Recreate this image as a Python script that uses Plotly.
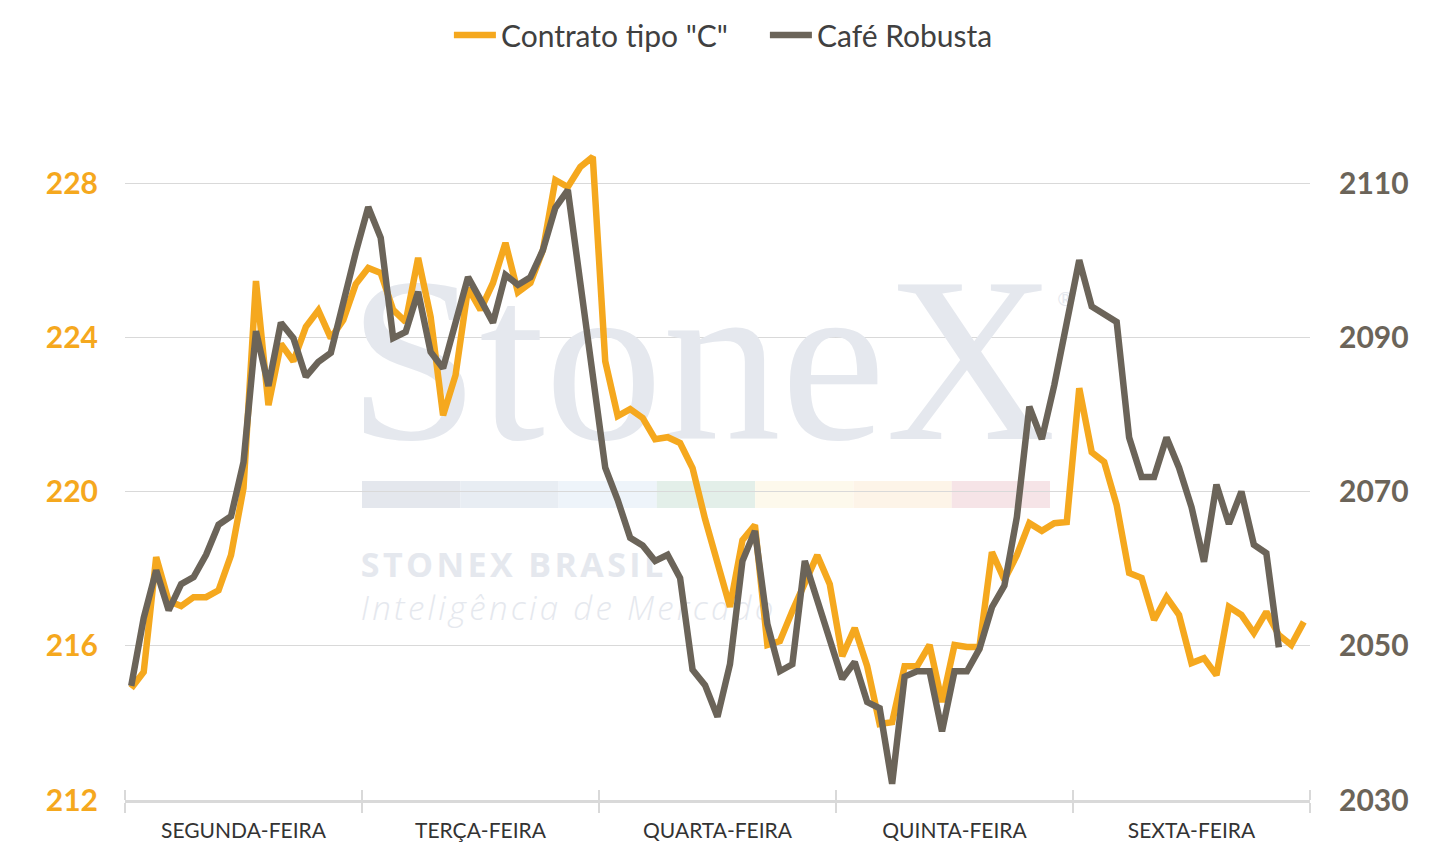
import plotly.graph_objects as go

# dias da semana (rotulos do eixo x) - 19 leituras por dia
dias = ["SEGUNDA-FEIRA", "TERÇA-FEIRA", "QUARTA-FEIRA", "QUINTA-FEIRA", "SEXTA-FEIRA"]
pontos_por_dia = 19

# Contrato tipo "C" (eixo esquerdo)
contrato_c = [
    214.90, 215.32, 218.30, 217.16, 217.03, 217.26, 217.26, 217.44, 218.35, 220.09,
    225.46, 222.24, 223.83, 223.38, 224.27, 224.70, 223.98, 224.45, 225.38, 225.80,
    225.67, 224.71, 224.40, 226.06, 224.53, 221.98, 223.02, 225.28, 224.71, 225.41,
    226.45, 225.17, 225.41, 226.26, 228.08, 227.90, 228.42, 228.68, 223.38, 221.96,
    222.14, 221.91, 221.36, 221.41, 221.26, 220.61, 219.29, 218.15, 217.01, 218.74,
    219.13, 216.02, 216.12, 216.90, 217.65, 218.35, 217.60, 215.73, 216.46, 215.47,
    213.97, 214.02, 215.47, 215.47, 216.02, 214.54, 216.02, 215.97, 215.97, 218.43,
    217.71, 218.35, 219.18, 218.98, 219.18, 219.21, 222.68, 221.02, 220.77, 219.65,
    217.89, 217.76, 216.67, 217.26, 216.80, 215.55, 215.68, 215.24, 217.01, 216.80,
    216.33, 216.88, 216.28, 216.02, 216.62,
]

# Cafe Robusta (eixo direito)
robusta = [
    2044.8, 2053.6, 2059.8, 2054.6, 2058.0, 2058.9, 2061.8, 2065.7, 2066.8, 2073.8,
    2090.8, 2083.7, 2091.9, 2089.9, 2084.9, 2086.8, 2088.0, 2094.9, 2101.0, 2106.9,
    2102.9, 2089.9, 2090.7, 2095.9, 2088.1, 2086.0, 2091.9, 2097.8, 2094.9, 2091.9,
    2098.1, 2096.8, 2097.8, 2101.3, 2106.8, 2109.1, 2097.1, 2085.0, 2073.1, 2068.9,
    2064.0, 2063.0, 2061.0, 2061.8, 2058.8, 2046.9, 2044.9, 2040.8, 2047.6, 2061.0,
    2064.9, 2052.8, 2046.7, 2047.6, 2061.0, 2055.9, 2050.8, 2045.7, 2047.9, 2042.7,
    2041.9, 2032.1, 2046.0, 2046.7, 2046.7, 2038.9, 2046.7, 2046.7, 2049.6, 2055.0,
    2057.8, 2066.7, 2081.0, 2076.8, 2083.8, 2091.6, 2100.0, 2094.0, 2092.9, 2092.0,
    2077.0, 2071.9, 2071.9, 2077.0, 2073.1, 2068.0, 2060.9, 2070.9, 2065.8, 2070.0,
    2063.1, 2062.0, 2049.8,
]

ticks_esq = [212, 216, 220, 224, 228]
ticks_dir = [2030, 2050, 2070, 2090, 2110]

LARANJA = "#F5A81E"
CINZA = "#6B6459"
MARCA = "#E5E8EE"
faixa_cores = ["#E4E7ED", "#E8EDF3", "#EEF4FA", "#E3EFE9", "#FDF9EC", "#FDF4E8", "#F6E4E7"]

n = len(contrato_c)
centros = [pontos_por_dia * k + (pontos_por_dia - 1) / 2 for k in range(len(dias))]


def espacado(s):
    # espacamento entre letras da marca d'agua
    return "\u200a".join(s)


fig = go.Figure()

# marca d'agua StoneX (fica abaixo das linhas)
fig.add_trace(go.Scatter(x=[45.75], y=[222.9], mode="text", text=["StoneX"],
                         textposition="middle center", hoverinfo="skip", showlegend=False,
                         textfont=dict(family="Liberation Serif", size=236, color=MARCA)))
fig.add_trace(go.Scatter(x=[74.9], y=[224.95], mode="text", text=["®"],
                         textposition="middle center", hoverinfo="skip", showlegend=False,
                         textfont=dict(family="Lato", size=20, color=MARCA)))
fig.add_trace(go.Scatter(x=[18.4], y=[218.0], mode="text", text=[espacado("STONEX BRASIL")],
                         textposition="middle right", hoverinfo="skip", showlegend=False,
                         textfont=dict(family="Open Sans", size=34, color=MARCA, weight="bold")))
fig.add_trace(go.Scatter(x=[18.4], y=[216.88], mode="text",
                         text=[espacado("Inteligência de Mercado")],
                         textposition="middle right", hoverinfo="skip", showlegend=False,
                         textfont=dict(family="Open Sans", size=33, color=MARCA, style="italic",
                                       weight=300)))

fig.add_trace(go.Scatter(x=list(range(n)), y=contrato_c, mode="lines", name='Contrato tipo "C"',
                         line=dict(color=LARANJA, width=6.5)))
fig.add_trace(go.Scatter(x=list(range(len(robusta))), y=robusta, mode="lines", name="Café Robusta",
                         line=dict(color=CINZA, width=6.5), xaxis="x2", yaxis="y2"))

# faixa colorida da marca
x0, x1 = 0.2, 0.7806
w = (x1 - x0) / len(faixa_cores)
for k, c in enumerate(faixa_cores):
    fig.add_shape(type="rect", xref="paper", yref="paper", x0=x0 + k * w, x1=x0 + (k + 1) * w,
                  y0=0.4207, y1=0.4597, fillcolor=c, line_width=0, layer="below")

fig.update_layout(
    width=1450, height=868,
    margin=dict(l=117, r=148, t=98, b=76),
    plot_bgcolor="white", paper_bgcolor="white",
    font=dict(family="Lato", color="#404040"),
    hovermode=False,
    legend=dict(orientation="h", xref="container", yref="container", x=0.522, xanchor="center",
                y=0.969, yanchor="middle", font=dict(size=30, color="#404040"), itemwidth=42,
                entrywidth=259),
    xaxis=dict(range=[-0.5, n - 0.5], tickmode="array", tickvals=centros, ticktext=dias,
               ticks="", showgrid=False, zeroline=False, showline=True, linecolor="#D9D9D9",
               linewidth=3, tickfont=dict(size=21, color="#333333"), ticklabelstandoff=10,
               minor=dict(tick0=-0.5, dtick=pontos_por_dia, ticks="outside", ticklen=10,
                          tickwidth=2, tickcolor="#D9D9D9", showgrid=False)),
    xaxis2=dict(overlaying="x", matches="x", anchor="y2", showticklabels=False, ticks="",
                showgrid=False, zeroline=False, showline=False,
                minor=dict(tick0=-0.5, dtick=pontos_por_dia, ticks="inside", ticklen=10,
                           tickwidth=2, tickcolor="#D9D9D9", showgrid=False)),
    yaxis=dict(range=[212, 230], tickmode="array", tickvals=ticks_esq, gridcolor="#D9D9D9",
               gridwidth=1, zeroline=False, showline=False, ticklabelstandoff=26,
               tickfont=dict(size=30, color=LARANJA, weight="bold")),
    yaxis2=dict(range=[2030, 2120], tickmode="array", tickvals=ticks_dir, overlaying="y",
                side="right", anchor="x2", showgrid=False, zeroline=False, showline=False,
                ticklabelstandoff=28, tickfont=dict(size=30, color=CINZA, weight="bold")),
)

fig.write_html("out.html")
